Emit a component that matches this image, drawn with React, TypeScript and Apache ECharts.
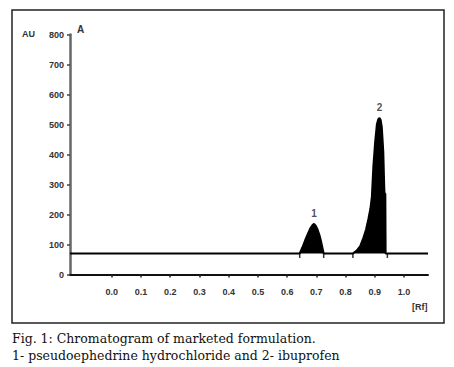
import React, { useEffect, useRef } from "react";
import * as echarts from "echarts";

// Chromatogram trace: Rf positions and absorbance (AU)
const traceRf = [
  -0.143, 0.643, 0.652, 0.662, 0.672, 0.680, 0.688, 0.692, 0.698, 0.704, 0.710, 0.715, 0.720, 0.725,
  0.825, 0.838, 0.850, 0.861, 0.870, 0.878, 0.885, 0.890, 0.895, 0.901, 0.907, 0.912, 0.916, 0.920,
  0.924, 0.929, 0.932, 0.933, 0.936, 0.937, 1.082,
];
const traceAU = [
  70, 70, 90, 115, 138, 155, 166, 169, 162, 150, 133, 115, 93, 70,
  70, 80, 95, 122, 150, 185, 220, 260, 360, 440, 500, 518, 522, 515,
  490, 410, 300, 272, 268, 70, 70,
];
const baselineAU = 70;
// integration boundary markers
const boundaryRf = [0.643, 0.725, 0.825, 0.943];
// peak labels
const peakNames = ["1", "2"];
const peakRf = [0.692, 0.916];
const peakAU = [169, 522];
// axis ticks
const xTickValues = [0, 0.1, 0.2, 0.3, 0.4, 0.5, 0.6, 0.7, 0.8, 0.9, 1.0];
const yMin = 0;
const yMax = 800;
const yInterval = 100;
const xMin = -0.143;
const xMax = 1.082;

const captionLines = [
  "Fig. 1: Chromatogram of marketed formulation.",
  "1- pseudoephedrine hydrochloride and 2- ibuprofen",
];

export default function App() {
  const ref = useRef<HTMLDivElement>(null);
  useEffect(() => {
    if (!ref.current) return;
    const chart = echarts.init(ref.current, null, { renderer: "svg" });
    const axisFont = { fontFamily: "Liberation Sans", fontWeight: "bold" as const, fontSize: 9, color: "#333" };
    chart.setOption({
      animation: false,
      backgroundColor: "#fff",
      grid: { left: 70, right: 26, top: 34.5, bottom: 92.5, containLabel: false },
      xAxis: {
        type: "value",
        min: xMin,
        max: xMax,
        splitLine: { show: false },
        axisLine: { onZero: false, lineStyle: { color: "#111", width: 2 } },
        axisTick: { show: true, length: 3, customValues: xTickValues, lineStyle: { color: "#222", width: 1.5 } },
        axisLabel: {
          ...axisFont,
          margin: 13,
          customValues: xTickValues,
          formatter: (v: number) => v.toFixed(1),
        },
      },
      yAxis: {
        type: "value",
        min: yMin,
        max: yMax,
        interval: yInterval,
        splitLine: { show: false },
        axisLine: { show: true, onZero: false, lineStyle: { color: "#666", width: 2.5 } },
        axisTick: { show: true, length: 3, lineStyle: { color: "#444", width: 1.5 } },
        axisLabel: { ...axisFont, margin: 6 },
      },
      series: [
        {
          type: "line",
          data: traceRf.map((r, i) => [r, traceAU[i]]),
          symbol: "none",
          lineStyle: { color: "#000", width: 2 },
          areaStyle: { color: "#000", opacity: 1, origin: baselineAU },
          z: 3,
        },
        {
          type: "scatter",
          data: boundaryRf.map((r) => [r, baselineAU]),
          symbol: "rect",
          symbolSize: [1.5, 5],
          symbolOffset: [0, 2],
          itemStyle: { color: "#000" },
          z: 4,
        },
        {
          type: "scatter",
          data: peakRf.map((r, i) => ({ value: [r, peakAU[i]], name: peakNames[i] })),
          symbolSize: 0,
          label: {
            show: true,
            position: "top",
            distance: 5,
            formatter: (p: any) => p.name,
            fontFamily: "Liberation Sans",
            fontWeight: "bold",
            fontSize: 10,
            color: "#222",
          },
          z: 5,
        },
      ],
      graphic: [
        {
          type: "rect",
          shape: { x: 12, y: 10, width: 432, height: 313 },
          style: { fill: "none", stroke: "#222", lineWidth: 1.5 },
          silent: true,
        },
        {
          type: "text",
          left: 22,
          top: 29,
          style: { text: "AU", ...axisFont, fill: "#333", fontSize: 9 },
        },
        {
          type: "text",
          left: 77,
          top: 24,
          style: { text: "A", fontFamily: "Liberation Sans", fontWeight: "bold", fontSize: 10, fill: "#333" },
        },
        {
          type: "text",
          left: 412,
          top: 302,
          style: { text: "[Rf]", ...axisFont, fill: "#333", fontSize: 9 },
        },
        {
          type: "text",
          left: 12,
          top: 332,
          style: { text: captionLines[0], fontFamily: "DejaVu Serif", fontSize: 12.5, fill: "#111" },
        },
        {
          type: "text",
          left: 12,
          top: 349,
          style: { text: captionLines[1], fontFamily: "DejaVu Serif", fontSize: 12.5, fill: "#111" },
        },
      ],
    });
    return () => chart.dispose();
  }, []);
  return (
    <div
      ref={ref}
      style={{ position: "absolute", left: 0, top: 0, width: 454, height: 367 }}
    />
  );
}
